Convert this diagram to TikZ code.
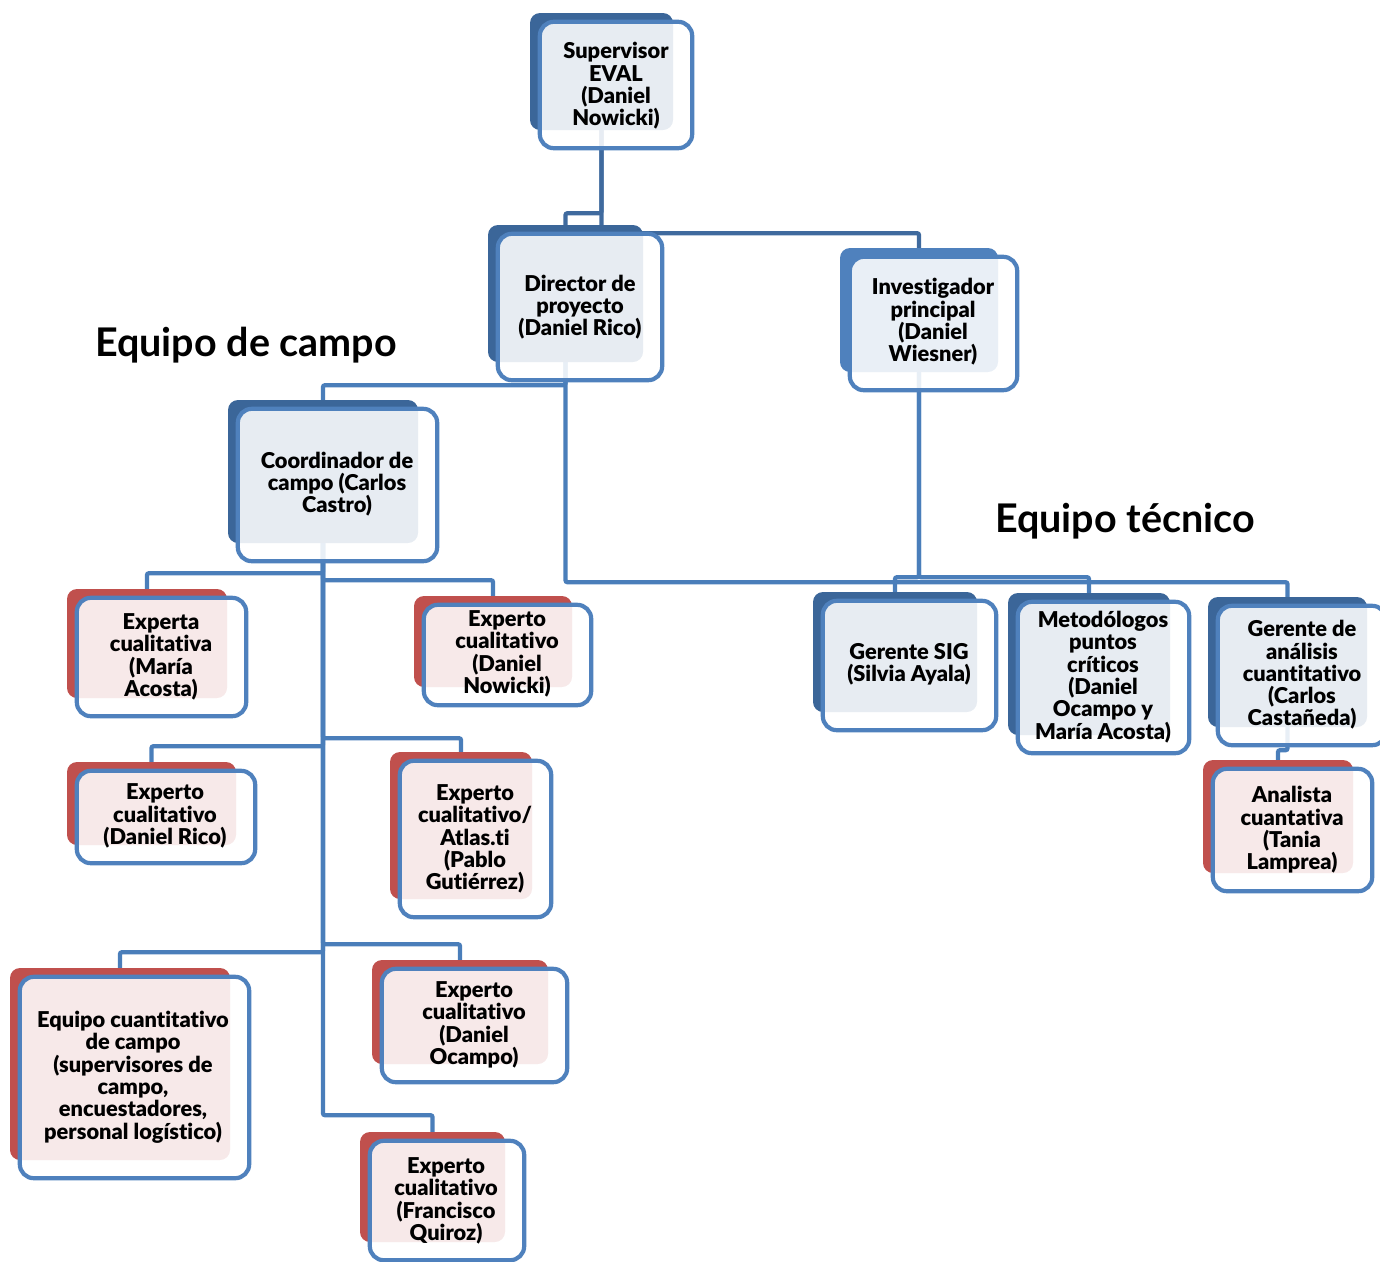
\documentclass[tikz,border=0pt]{standalone}
\usepackage{fontspec}
\newfontfamily\lato{Lato}[Ligatures=NoCommon]
\newfontfamily\latoblk{Lato Black}[Ligatures=NoCommon]
\usetikzlibrary{calc,backgrounds}
\definecolor{dkback}{HTML}{3B6699}
\definecolor{mdback}{HTML}{4F81BD}
\definecolor{rdback}{HTML}{C0504D}
\definecolor{bordc}{HTML}{4F81BD}
\definecolor{conndk}{HTML}{3F6A9E}
\definecolor{connmd}{HTML}{4A7EBA}
\tikzset{
  backbox/.style={draw=none,rectangle,rounded corners=10pt,inner sep=0pt},
  blueb/.style={fill=dkback},
  lblueb/.style={fill=mdback},
  redb/.style={fill=rdback},
  frontbox/.style={draw=bordc,line width=4.2pt,rounded corners=14pt,fill=white,fill opacity=0.88,draw opacity=1},
  boxtxt/.style={font=\latoblk\fontsize{21.8}{22.3}\selectfont,align=center,inner sep=0pt,text=black},
  titletxt/.style={font=\lato\bfseries\fontsize{39.5}{44}\selectfont,inner sep=0pt,text=black},
  conn/.style={draw=connmd,line width=4.3pt,rounded corners=2pt},
  conndark/.style={draw=conndk,line width=4.3pt,rounded corners=2pt},
}
\newcommand\obox[6]{%
  \pgfmathsetmacro\obcx{(#2+#4)/2}\pgfmathsetmacro\obcy{(#3+#5)/2}%
  \pgfmathsetmacro\obww{#4-#2}\pgfmathsetmacro\obhh{#5-#3}%
  \node[backbox,#6,minimum width=\obww pt,minimum height=\obhh pt] (#1) at (\obcx,\obcy) {};
  \draw[frontbox] ($(#1.north west)+(10,9)$) rectangle ($(#1.south east)+(19,18)$);
}
\begin{document}
\begin{tikzpicture}[x=1pt,y=-1pt]
\useasboundingbox (0,0) rectangle (1380,1261);
\clip (0,0) rectangle (1380,1261);
% boxes
\obox{sup}{530}{13}{673}{130}{blueb}
\obox{dir}{488}{225}{643}{362}{blueb}
\obox{inv}{840}{248}{998}{372}{lblueb}
\obox{coord}{228}{400}{418}{543}{blueb}
\obox{maria}{67}{589}{227}{698}{redb}
\obox{nowicki}{414}{596}{572}{687}{redb}
\obox{rico}{67}{762}{236}{845}{redb}
\obox{pablo}{390}{752}{532}{899}{redb}
\obox{cuant}{10}{968}{230}{1160}{redb}
\obox{ocampo}{372}{960}{548}{1064}{redb}
\obox{quiroz}{360}{1132}{505}{1242}{redb}
\obox{sig}{813}{592}{977}{712}{blueb}
\obox{met}{1008}{593}{1170}{735}{blueb}
\obox{geran}{1208}{597}{1367}{727}{blueb}
\obox{analista}{1203}{760}{1353}{873}{redb}
% connectors
\begin{scope}[on background layer]
\draw[conndark] (sup.south) -- ++(0,103) -| (inv.north);
\draw[conndark] (sup.south) -- ++(0,83) -| (dir.north);
\draw[conn] (dir.south) -- ++(0,23) -| (coord.north);
\draw[conn] (dir.south) -- ++(0,220) -| (geran.north);
\draw[conn] (inv.south) -- ++(0,205) -| (sig.north);
\draw[conn] (inv.south) -- ++(0,205) -| (met.north);
\draw[conn] (coord.south) -- ++(0,30) -| (maria.north);
\draw[conn] (coord.south) -- ++(0,37) -| (nowicki.north);
\draw[conn] (coord.south) -- ++(0,203) -| (rico.north);
\draw[conn] (coord.south) -- ++(0,195) -| (pablo.north);
\draw[conn] (coord.south) -- ++(0,409) -| (cuant.north);
\draw[conn] (coord.south) -- ++(0,401) -| (ocampo.north);
\draw[conn] (coord.south) -- ++(0,572) -| (quiroz.north);
\draw[conn] (geran.south) -- ++(0,23) -| (analista.north);
\end{scope}
% texts
\node[boxtxt] (sup-t) at (616,86) {Supervisor\\EVAL\\(Daniel\\Nowicki)};
\node[boxtxt] (dir-t) at (580,307) {Director de\\proyecto\\(Daniel Rico)};
\node[boxtxt] (inv-t) at (933,322) {Investigador\\principal\\(Daniel\\Wiesner)};
\node[boxtxt] (coord-t) at (337,484) {Coordinador de\\campo (Carlos\\Castro)};
\node[boxtxt] (maria-t) at (161,657) {Experta\\cualitativa\\(María\\Acosta)};
\node[boxtxt] (nowicki-t) at (507,654) {Experto\\cualitativo\\(Daniel\\Nowicki)};
\node[boxtxt] (rico-t) at (165,816) {Experto\\cualitativo\\(Daniel Rico)};
\node[boxtxt] (pablo-t) at (475,839) {Experto\\cualitativo/\\Atlas.ti\\(Pablo\\Gutiérrez)};
\node[boxtxt] (cuant-t) at (133,1077) {Equipo cuantitativo\\de campo\\(supervisores de\\campo,\\encuestadores,\\personal logístico)};
\node[boxtxt] (ocampo-t) at (474,1025) {Experto\\cualitativo\\(Daniel\\Ocampo)};
\node[boxtxt] (quiroz-t) at (446,1201) {Experto\\cualitativo\\(Francisco\\Quiroz)};
\node[boxtxt] (sig-t) at (909,664) {Gerente SIG\\(Silvia Ayala)};
\node[boxtxt] (met-t) at (1103,677) {Metodólogos\\puntos\\críticos\\(Daniel\\Ocampo y\\María Acosta)};
\node[boxtxt] (geran-t) at (1302,675) {Gerente de\\análisis\\cuantitativo\\(Carlos\\Castañeda)};
\node[boxtxt] (analista-t) at (1292,830) {Analista\\cuantativa\\(Tania\\Lamprea)};
% titles
\node[titletxt] (tcampo) at (246,345) {Equipo de campo};
\node[titletxt] (ttec) at (1125,521) {Equipo técnico};
\end{tikzpicture}
\end{document}
